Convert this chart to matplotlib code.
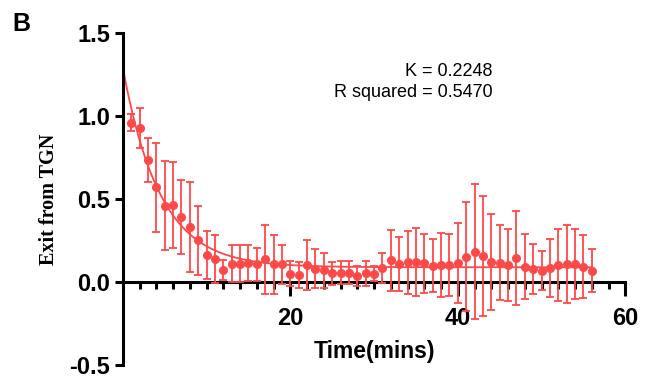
import numpy as np
import matplotlib
matplotlib.use('Agg')
import matplotlib.pyplot as plt
from matplotlib.ticker import MultipleLocator

plt.rcParams['axes.unicode_minus'] = False

time = list(range(1, 57))
exit_mean = [0.96, 0.93, 0.735, 0.57, 0.46, 0.465, 0.39, 0.33, 0.25, 0.16,
             0.14, 0.07, 0.11, 0.11, 0.115, 0.105, 0.135, 0.105, 0.105, 0.048,
             0.04, 0.10, 0.08, 0.07, 0.052, 0.056, 0.056, 0.038, 0.052, 0.048,
             0.082, 0.13, 0.107, 0.118, 0.122, 0.112, 0.096, 0.102, 0.102, 0.112,
             0.152, 0.183, 0.157, 0.122, 0.116, 0.102, 0.143, 0.092, 0.076, 0.068,
             0.082, 0.102, 0.108, 0.108, 0.092, 0.068]
exit_err = [0.05, 0.12, 0.13, 0.27, 0.27, 0.26, 0.225, 0.27, 0.21, 0.145,
            0.145, 0.06, 0.11, 0.11, 0.11, 0.10, 0.21, 0.177, 0.117, 0.075,
            0.08, 0.15, 0.12, 0.105, 0.07, 0.07, 0.07, 0.06, 0.076, 0.045,
            0.09, 0.185, 0.165, 0.19, 0.205, 0.177, 0.16, 0.195, 0.185, 0.24,
            0.33, 0.405, 0.36, 0.29, 0.227, 0.217, 0.285, 0.195, 0.15, 0.12,
            0.175, 0.217, 0.235, 0.21, 0.19, 0.13]

# one-phase decay fit
K = 0.2248
Y0 = 1.29
plateau = 0.088

red = '#ff4848'

fig = plt.figure(figsize=(6.5, 3.8), dpi=100)
ax = fig.add_axes([0.189, 0.04, 0.773, 0.873])

ax.errorbar(time, exit_mean, yerr=exit_err, fmt='o', color=red, ms=5.5,
            elinewidth=1.3, capsize=3, capthick=1.3, zorder=3)
xf = np.linspace(0, 56, 300)
ax.plot(xf, (Y0 - plateau) * np.exp(-K * xf) + plateau, color=red, lw=1.3, zorder=2)

ax.set_xlim(0, 60)
ax.set_ylim(-0.5, 1.5)
ax.spines['top'].set_visible(False)
ax.spines['right'].set_visible(False)
ax.spines['bottom'].set_position(('data', 0))
ax.spines['left'].set_linewidth(2.2)
ax.spines['bottom'].set_linewidth(2.2)

ax.set_xticks([20, 40, 60])
ax.xaxis.set_minor_locator(MultipleLocator(2))
ax.yaxis.set_major_locator(MultipleLocator(0.5))
ax.tick_params(axis='x', which='major', length=10, width=2.2, pad=8)
ax.tick_params(axis='x', which='minor', length=5, width=2.2)
ax.tick_params(axis='y', which='major', length=6, width=2.2, pad=3)
for lab in ax.get_xticklabels() + ax.get_yticklabels():
    lab.set_fontsize(17)
    lab.set_fontweight('bold')
    lab.set_family('Liberation Sans')

ax.text(30.1, -0.42, 'Time(mins)', ha='center', va='center', fontsize=16.5,
        fontweight='bold', family='Liberation Sans')
ax.set_ylabel('Exit from TGN', fontsize=14.5, fontweight='bold', family='Liberation Serif')
ax.yaxis.set_label_coords(-0.127, 0.5)

ax.text(44.2, 1.27, 'K = 0.2248', ha='right', va='center', fontsize=13,
        family='Liberation Sans')
ax.text(44.2, 1.14, 'R squared = 0.5470', ha='right', va='center', fontsize=13,
        family='Liberation Sans')

fig.text(0.033, 0.937, 'B', fontsize=18, fontweight='bold', family='Liberation Sans',
         ha='center', va='center')

fig.savefig('out.png', dpi=100, facecolor='white')
